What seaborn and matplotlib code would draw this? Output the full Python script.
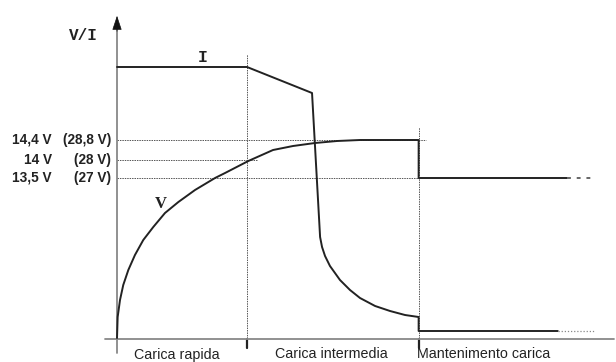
import matplotlib
matplotlib.use("Agg")
import matplotlib.pyplot as plt
import seaborn as sns
import pandas as pd

sns.set_style("white")

# time axis (arbitrary units) and V / I curves
v_time = [0, 0.05, 0.23, 0.48, 0.87, 1.38, 2.02, 2.79, 3.69, 4.72, 6.0, 7.54, 8.31,
          10.1, 12.0, 13.54, 15.23, 16.92, 18.7, 23.2, 23.2, 34.6]
v_value = [0.1, 2.2, 3.9, 5.4, 6.9, 8.4, 9.9, 11.2, 12.6, 13.7, 14.9, 16.1, 16.6,
           17.8, 18.9, 19.3, 19.6, 19.8, 19.9, 19.9, 16.1, 16.1]
v_tail = [34.6, 36.8]

i_time = [0, 10.0, 15.0, 15.62, 15.77, 16.0, 16.38, 17.15, 17.92, 18.69, 19.85,
          21.0, 22.15, 23.2, 23.2, 33.9]
i_value = [27.2, 27.2, 24.6, 10.2, 9.2, 8.3, 7.3, 5.9, 4.9, 4.1, 3.3,
           2.8, 2.4, 2.2, 0.8, 0.8]
i_tail = [33.9, 36.8]

# voltage levels: 14,4 V / 14 V / 13,5 V
levels = [19.9, 17.9, 16.1]
level_ends = [23.8, 10.8, 23.2]
level_left = ["14,4 V", "14 V", "13,5 V"]
level_right = ["(28,8 V)", "(28 V)", "(27 V)"]

phase_bounds = [10.0, 23.2]
phase_tops = [28.5, 21.2]
phase_names = ["Carica rapida", "Carica intermedia", "Mantenimento carica"]
phase_pos = [4.6, 16.5, 23.1]
phase_align = ["center", "center", "left"]

fig = plt.figure(figsize=(6.16, 3.62), dpi=100)
ax = fig.add_axes([0, 0, 1, 1])
ax.axis("off")

ref = dict(color="#555555", lw=0.7, ls=(0, (1.5, 1)))
for lv, end in zip(levels, level_ends):
    ax.plot([0, end], [lv, lv], **ref)
for xb, top in zip(phase_bounds, phase_tops):
    ax.plot([xb, xb], [-0.9, top], **ref)
    ax.plot([xb, xb], [-0.9, 0], color="#222222", lw=1.6)

# axes
ax.plot([0, 0], [-1.4, 31], color="#888888", lw=1.3)
ax.plot([-0.92, 38.2], [0, 0], color="#888888", lw=1.3)
ax.annotate("", xy=(0, 32.6), xytext=(0, 30.5),
            arrowprops=dict(arrowstyle="-|>,head_length=0.9,head_width=0.3", color="#111111", lw=0.5))
ax.annotate("", xy=(38.9, 0), xytext=(37.6, 0),
            arrowprops=dict(arrowstyle="-|>,head_length=0.9,head_width=0.3", color="#111111", lw=0.5))

df_v = pd.DataFrame({"t": v_time, "y": v_value})
df_i = pd.DataFrame({"t": i_time, "y": i_value})
sns.lineplot(data=df_v, x="t", y="y", sort=False, estimator=None, color="#222222", lw=1.4, ax=ax)
sns.lineplot(data=df_i, x="t", y="y", sort=False, estimator=None, color="#222222", lw=1.4, ax=ax)
ax.plot(v_tail, [v_value[-1]] * 2, color="#666666", lw=1.4, ls=(0, (2, 3)))
ax.plot(i_tail, [i_value[-1]] * 2, color="#888888", lw=0.9, ls=(0, (1, 1.5)))
ax.set_xlim(-9, 38.38)
ax.set_ylim(-2.3, 33.9)

lab = dict(fontsize=9.8, fontweight="bold", color="#222222", va="center", family="Liberation Sans")
for lv, l1, l2 in zip(levels, level_left, level_right):
    ax.text(-5.0, lv, l1, ha="right", **lab)
    ax.text(-0.45, lv, l2, ha="right", **lab)

mono = dict(family="Liberation Mono", fontweight="bold", color="#222222", va="center")
ax.text(-2.55, 30.3, "V/I", fontsize=11.5, ha="center", **mono)
ax.text(6.6, 28.1, "I", fontsize=12, ha="center", **mono)
ax.text(3.4, 13.5, "V", fontsize=12, ha="center", family="Liberation Serif",
        fontweight="bold", color="#222222", va="center")

for name, xp, al in zip(phase_names, phase_pos, phase_align):
    ax.text(xp, -1.95, name, fontsize=10.3, ha=al, va="baseline", color="#222222", family="Liberation Sans")

fig.savefig("out.png", dpi=100)
